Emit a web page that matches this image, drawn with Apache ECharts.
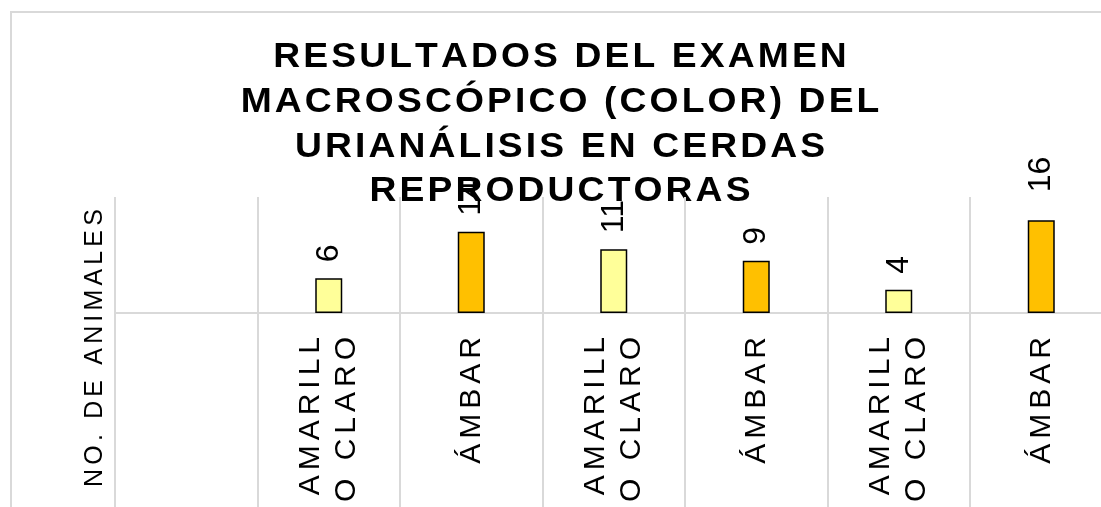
<!DOCTYPE html>
<html>
<head>
<meta charset="utf-8">
<script src="https://cdn.jsdelivr.net/npm/echarts@6/dist/echarts.min.js"></script>
<style>
  html, body { margin: 0; padding: 0; background: #fff; overflow: hidden; }
  /* el grafico original sigue un poco a la derecha del recorte */
  #chart { width: 1120px; height: 507px; }
</style>
</head>
<body>
<div id="chart"></div>
<script>
  // datos
  const titleLines = ['RESULTADOS DEL EXAMEN', 'MACROSCÓPICO (COLOR) DEL', 'URIANÁLISIS EN CERDAS', 'REPRODUCTORAS'];
  const yName = 'NO. DE ANIMALES';
  const categories = ['', 'AMARILL\nO CLARO', 'ÁMBAR', 'AMARILL\nO CLARO', 'ÁMBAR', 'AMARILL\nO CLARO', 'ÁMBAR'];
  const values = [null, 6, 14, 11, 9, 4, 16];

  const FONT = "'Liberation Sans', Arial, sans-serif";
  const GRID = '#d9d9d9';

  // espaciado entre letras como en Excel
  function spaced(s, sp) {
    return s.split('\n').map(l => Array.from(l).join(sp || '\u2006')).join('\n');
  }
  function colorFor(cat) {
    return cat.indexOf('AMARILL') === 0 ? '#FFFF99' : '#FFC000';
  }

  const barData = values.map((v, i) => {
    const item = {
      value: v == null ? '-' : v,
      itemStyle: { color: colorFor(categories[i]) }
    };
    if (v === 16) item.label = { distance: 28 };
    return item;
  });

  const myChart = echarts.init(document.getElementById('chart'));
  const option = {
    animation: false,
    backgroundColor: '#fff',
    graphic: [
      {
        type: 'rect',
        shape: { x: 11, y: 12, width: 1200, height: 600 },
        style: { fill: 'transparent', stroke: GRID, lineWidth: 2 },
        silent: true
      },
      {
        type: 'text',
        x: 560,
        y: 35.5,
        scaleX: 1.035,
        scaleY: 0.95,
        style: {
          text: spaced(titleLines.join('\n'), '\u200A'),
          fontFamily: FONT,
          fontSize: 36,
          fontWeight: 'bold',
          fill: '#000',
          lineHeight: 47,
          align: 'center',
          verticalAlign: 'top'
        },
        silent: true
      },
      {
        type: 'text',
        x: 95,
        y: 348,
        rotation: Math.PI / 2,
        style: {
          text: spaced(yName),
          fontFamily: FONT,
          fontSize: 25,
          fill: '#000',
          align: 'center',
          verticalAlign: 'middle'
        },
        silent: true
      }
    ],
    grid: {
      left: 115,
      top: 197,
      width: 997.5,
      height: 116,
      containLabel: false
    },
    xAxis: {
      type: 'category',
      data: categories,
      boundaryGap: true,
      axisLine: { show: true, lineStyle: { color: GRID, width: 2 } },
      axisTick: { show: true, interval: 0, length: 200, lineStyle: { color: GRID, width: 2 } },
      splitLine: { show: true, interval: 0, lineStyle: { color: GRID, width: 2 } },
      axisLabel: {
        interval: 0,
        rotate: 90,
        margin: 24,
        fontFamily: FONT,
        fontSize: 30,
        lineHeight: 36,
        color: '#000',
        formatter: v => spaced(v)
      }
    },
    yAxis: {
      type: 'value',
      min: 0,
      max: 20,
      show: false,
      splitLine: { show: false }
    },
    series: [
      {
        type: 'bar',
        data: barData,
        barWidth: 27,
        itemStyle: { borderColor: '#000', borderWidth: 1.5 },
        label: {
          show: true,
          position: 'top',
          distance: 16,
          rotate: 90,
          align: 'left',
          verticalAlign: 'middle',
          fontFamily: FONT,
          fontSize: 32,
          color: '#000'
        }
      }
    ]
  };
  myChart.setOption(option);
</script>
</body>
</html>
